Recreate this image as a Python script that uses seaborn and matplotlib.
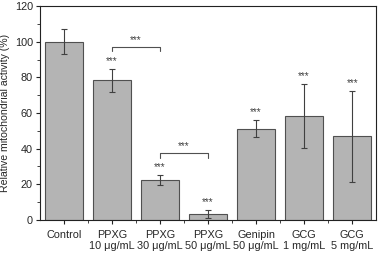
import numpy as np
import pandas as pd
import seaborn as sns
from matplotlib import pyplot as plt
from matplotlib.ticker import MultipleLocator, FixedLocator

# Data
groups = ["Control", "PPXG\n10 μg/mL", "PPXG\n30 μg/mL", "PPXG\n50 μg/mL",
          "Genipin\n50 μg/mL", "GCG\n1 mg/mL", "GCG\n5 mg/mL"]
activity = [100.0, 78.3, 22.3, 3.3, 51.2, 58.3, 46.9]
errors = [7.0, 6.4, 2.9, 2.3, 4.8, 18.0, 25.4]
stars = ["", "***", "***", "***", "***", "***", "***"]

# Pairwise comparisons: (left index, right index, bracket height)
pairs = [(1, 2, 97.2), (2, 3, 37.4)]

sns.set_theme(style="ticks")
plt.rcParams['font.family'] = ['Liberation Sans', 'DejaVu Sans']

df = pd.DataFrame({"group": groups, "activity": activity})

fig, ax = plt.subplots(figsize=(3.8, 2.54), dpi=100)
sns.barplot(data=df, x="group", y="activity", color="#b4b4b4",
            edgecolor="#505050", linewidth=0.8, width=0.8,
            saturation=1, errorbar=None, ax=ax)

pos = np.arange(len(groups))
ax.errorbar(pos, activity, yerr=errors, fmt="none", ecolor="#404040",
            elinewidth=0.8, capsize=2.5, capthick=0.8)

# Significance stars above each bar
for x, y, e, s in zip(pos, activity, errors, stars):
    if s:
        ax.text(x, y + e + 4.5, s, ha="center", va="center",
                fontsize=7, color="#404040")

# Brackets between groups
for i, j, h in pairs:
    ax.plot([pos[i], pos[i], pos[j], pos[j]], [h - 2.5, h, h, h - 2.5],
            color="#505050", lw=0.8)
    ax.text((pos[i] + pos[j]) / 2, h + 3.8, "***", ha="center",
            va="center", fontsize=7, color="#404040")

ax.set_xlim(-0.5, len(groups) - 0.5)
ax.set_ylim(0, 120)
ax.yaxis.set_major_locator(MultipleLocator(20))
ax.yaxis.set_minor_locator(MultipleLocator(10))
ax.xaxis.set_minor_locator(FixedLocator(pos[:-1] + 0.5))
ax.set_xlabel("")
ax.set_ylabel("Relative mitochondrial activity (%)", fontsize=7.6)
ax.yaxis.set_label_coords(-0.09, 0.5)
ax.tick_params(axis="both", which="major", labelsize=7.8, length=3,
               width=0.8, direction="out", color="#222222")
ax.tick_params(axis="x", which="major", pad=4)
ax.tick_params(axis="y", which="major", pad=2)
ax.tick_params(axis="both", which="minor", length=2, width=0.6,
               color="#222222")
for spine in ax.spines.values():
    spine.set_visible(True)
    spine.set_linewidth(0.8)
    spine.set_color("#222222")

fig.subplots_adjust(left=0.105, right=0.99, top=0.976, bottom=0.134)
fig.savefig("out.png", dpi=100)
